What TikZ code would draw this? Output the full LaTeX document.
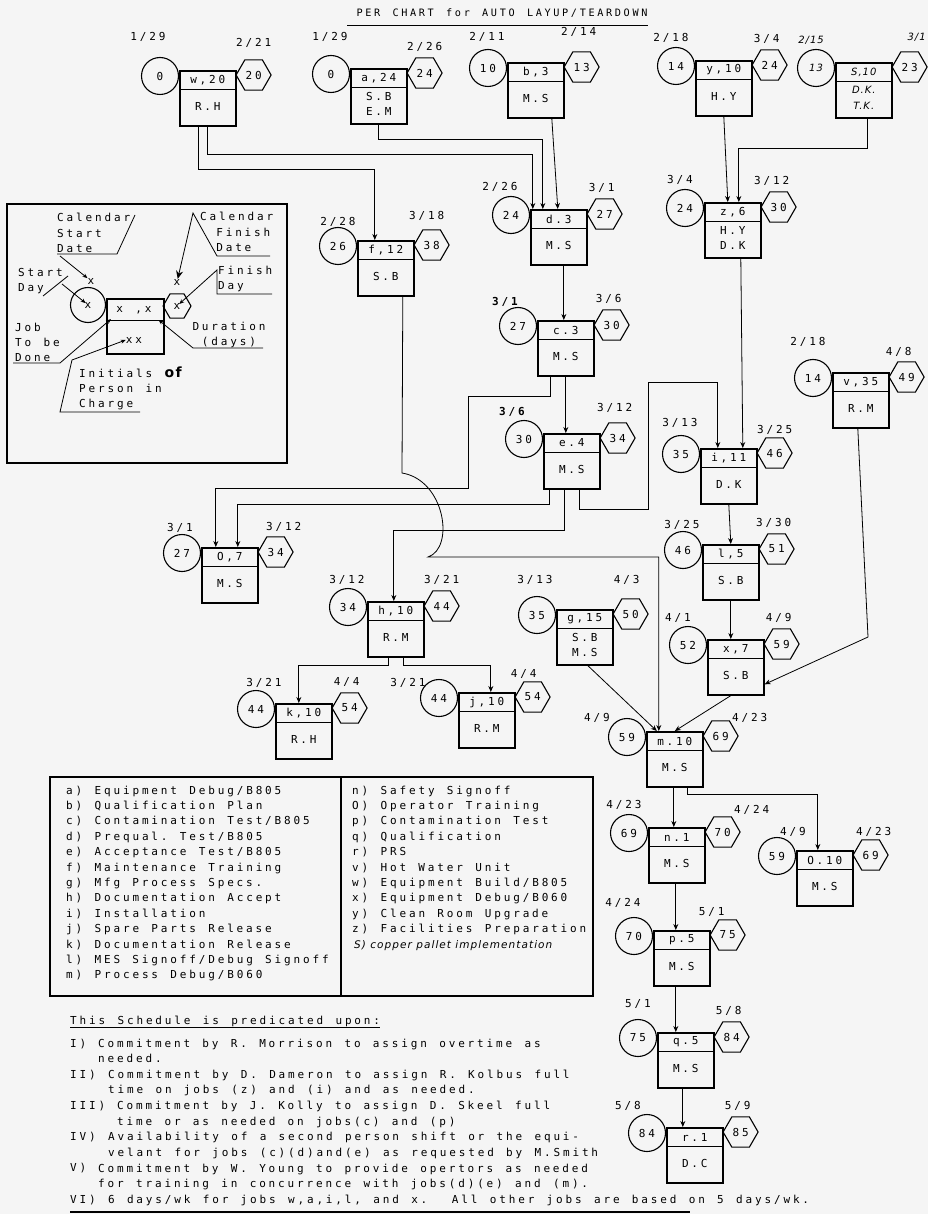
\documentclass[tikz,border=0pt]{standalone}
\usepackage{fontspec}
\newfontfamily\typew[LetterSpace=26]{DejaVu Sans Mono}
\newfontfamily\handw[LetterSpace=10]{DejaVu Sans}
\usetikzlibrary{calc,shapes.geometric,arrows.meta}

\newcommand{\chartfont}{\typew\fontsize{11}{15.4}\selectfont\spaceskip=12.3pt\xspaceskip=12.3pt\relax}
\newcommand{\handfont}{\handw\itshape\fontsize{10}{13}\selectfont}

\tikzset{
  jobbox/.style={draw, line width=1.6pt, minimum width=56, minimum height=55, inner sep=0pt, anchor=north west},
  jobdiv/.style={line width=0.7pt},
  jobtxt/.style={font=\chartfont, inner sep=0pt, align=center},
  startday/.style={circle, draw, line width=1.1pt, minimum size=37, inner sep=0pt, font=\chartfont},
  finishday/.style={regular polygon, regular polygon sides=6, draw, line width=1.1pt, minimum size=35, inner sep=0pt, font=\chartfont},
  datelbl/.style={font=\chartfont, inner sep=0pt},
  flow/.style={line width=0.8pt, -{Stealth[length=6pt,width=5pt]}},
  lead/.style={line width=0.8pt, -{Stealth[length=5pt,width=4pt]}},
  plain/.style={font=\chartfont, inner sep=0pt, anchor=base west, align=left},
}

% job: name, top left of box, job, person, start day, finish day, start date, finish date
\newcommand{\jobnode}[8]{%
  \node[jobbox] (#1) at (#2) {};
  \draw[jobdiv] ($(#1.north west)+(0,19)$) -- ($(#1.north east)+(0,19)$);
  \node[jobtxt] (#1-t) at ($(#1.north)+(0,10)$) {#3};
  \node[jobtxt] (#1-p) at ($(#1.north)+(0,36)$) {#4};
  \node[startday] (#1-s) at ($(#1.north west)+(-19,6)$) {#5};
  \node[finishday] (#1-f) at ($(#1.north east)+(17,5)$) {#6};
  \node[datelbl] (#1-sd) at ($(#1.north west)+(-24,-22)$) #7;
  \node[datelbl] (#1-fd) at ($(#1.north east)+(14,-21)$) #8;
}

\begin{document}
\begin{tikzpicture}[x=1pt, y=-1pt]
\useasboundingbox[fill=black!4] (0,0) rectangle (928,1214);

% Title
\node[datelbl, font=\chartfont\fontsize{10.2}{12}\selectfont] (title) at (502,13) {PER CHART for AUTO LAYUP/TEARDOWN};
\draw[line width=0.8pt] (347,25) -- (648,25);

% Jobs
\jobnode{jw}{179,70}{w,20}{R.H}{0}{20}{[shift={(-7,-11)}]{1/29}}{[shift={(3,-6)}]{2/21}}
\jobnode{ja}{350,68}{a,24}{S.B\\E.M}{0}{24}{[shift={(4,-9)}]{1/29}}{[shift={(3,0)}]{2/26}}
\jobnode{jb}{507,62}{b,3}{M.S}{10}{13}{[shift={(4,-3)}]{2/11}}{[shift={(0,-9)}]{2/14}}
\jobnode{jy}{695,60}{y,10}{H.Y}{14}{24}{{2/18}}{{3/4}}
\jobnode{jS}{835,62}{\handfont S,10}{{\handfont D.K.}\\{\handfont T.K.}}{\handfont 13}{23}{{\handfont 2/15}}{[shift={(10,-4)}]{\handfont 3/1}}
\jobnode{jd}{530,209}{d.3}{M.S}{24}{27}{[shift={(-6,0)}]{2/26}}{{3/1}}
\jobnode{jz}{704,202}{z,6}{H.Y\\D.K}{24}{30}{{3/4}}{[shift={(-4,0)}]{3/12}}
\jobnode{jf}{357,240}{f,12}{S.B}{26}{38}{[shift={(5,4)}]{2/28}}{[shift={(-2,-3)}]{3/18}}
\jobnode{jc}{537,320}{c.3}{M.S}{27}{30}{[shift={(-8,4)}]{\bfseries 3/1}}{{3/6}}
\jobnode{je}{543,433}{e.4}{M.S}{30}{34}{[shift={(-7,1)}]{\bfseries 3/6}}{[shift={(0,-4)}]{3/12}}
\jobnode{jv}{832,372}{v,35}{R.M}{14}{49}{[shift={(0,-8)}]{2/18}}{[shift={(-5,1)}]{4/8}}
\jobnode{ji}{700,448}{i,11}{D.K}{35}{46}{[shift={(4,-3)}]{3/13}}{[shift={(3,3)}]{3/25}}
\jobnode{jl}{702,544}{l,5}{S.B}{46}{51}{[shift={(4,3)}]{3/25}}{{3/30}}
\jobnode{jx}{707,639}{x,7}{S.B}{52}{59}{[shift={(-5,1)}]{4/1}}{{4/9}}
\jobnode{jo7}{201,547}{O,7}{M.S}{27}{34}{[shift={(3,3)}]{3/1}}{[shift={(11,1)}]{3/12}}
\jobnode{jh}{367,601}{h,10}{R.M}{34}{44}{[shift={(4,1)}]{3/12}}{[shift={(3,0)}]{3/21}}
\jobnode{jg}{556,609}{g,15}{S.B\\M.S}{35}{50}{[shift={(3,-7)}]{3/13}}{[shift={(-1,-8)}]{4/3}}
\jobnode{jk}{275,703}{k,10}{R.H}{44}{54}{[shift={(13,2)}]{3/21}}{{4/4}}
\jobnode{jj}{458,692}{j,10}{R.M}{44}{54}{[shift={(-26,13)}]{3/21}}{[shift={(-6,3)}]{4/4}}
\jobnode{jm}{646,731}{m.10}{M.S}{59}{69}{[shift={(-25,9)}]{4/9}}{[shift={(32,8)}]{4/23}}
\jobnode{jn}{648,827}{n.1}{M.S}{69}{70}{{4/23}}{[shift={(32,4)}]{4/24}}
\jobnode{jo10}{796,850}{O.10}{M.S}{59}{69}{[shift={(21,4)}]{4/9}}{[shift={(6,3)}]{4/23}}
\jobnode{jp}{653,930}{p.5}{M.S}{70}{75}{[shift={(-6,-5)}]{4/24}}{[shift={(-13,3)}]{5/1}}
\jobnode{jq}{657,1032}{q.5}{M.S}{75}{84}{[shift={(5,-6)}]{5/1}}{{5/8}}
\jobnode{jr}{666,1127}{r.1}{D.C}{84}{85}{[shift={(-14,1)}]{5/8}}{{5/9}}

% Connectors
\draw[flow] (jw.south) -- ++(0,28) -| ($(jd.north)+(-26,0)$);
\draw[flow] ($(jw.south)+(-9,0)$) -- ++(0,43) -| ($(jf.north)+(-11,0)$);
\draw[flow] (ja.south) -- ++(0,15) -| ($(jd.north)+(-16,0)$);
\draw[flow] ($(jb.south)+(16,0)$) -- ($(jd.north)+(-1,0)$);
\draw[flow] (jy.south) -- ($(jz.north)+(-5,0)$);
\draw[flow] ($(jS.south)+(4,0)$) -- ++(0,30) -| ($(jz.north)+(6,0)$);
\draw[flow] ($(jz.south)+(8,0)$) -- ($(ji.north)+(14,0)$);
\draw[flow] ($(jd.south)+(5,0)$) -- ($(jc.north)+(-2,0)$);
\draw[flow] (jc.south) -- ($(je.north)+(-6,0)$);
\draw[flow] ($(jc.south)+(-15,0)$) -- ++(0,20) -| (468,488) -| ($(jo7.north)+(-14,0)$);
\draw[flow] ($(je.south)+(-22,0)$) -- ++(0,15) -| ($(jo7.north)+(8,0)$);
\draw[flow] ($(je.south)+(-7,0)$) -- ++(0,41) -| ($(jh.north)+(-2,0)$);
\draw[flow] ($(je.south)+(8,0)$) -- ++(0,20) -| (648,382) -| ($(ji.north)+(-11,0)$);
\draw[flow] ($(jf.south)+(17,0)$) -- (402,473) .. controls (445,480) and (455,548) .. (428,557) -| ($(jm.north)+(-16,0)$);
\draw[flow] ($(jg.south)+(3,0)$) -- ($(jm.north)+(-18,0)$);
\draw[flow] ($(jx.south)+(-5,0)$) -- (jm.north);
\draw[flow] ($(jv.south)+(-3,0)$) -- (868,637) -- ($(jx.east)+(0,17)$);
\draw[flow] (ji.south) -- (jl.north);
\draw[flow] (jl.south) -- ($(jx.north)+(-5,0)$);
\draw[flow] ($(jh.south)+(-7,0)$) -- ++(0,8) -| ($(jk.north)+(-5,0)$);
\draw[flow] ($(jh.south)+(8,0)$) -- ++(0,8) -| ($(jj.north)+(4,0)$);
\draw[flow] ($(jm.south)+(-1,0)$) -- ($(jn.north)+(-3,0)$);
\draw[flow] ($(jm.south)+(13,0)$) -- ++(0,7) -| ($(jo10.north)+(-7,0)$);
\draw[flow] ($(jn.south)+(-1,0)$) -- ($(jp.north)+(-6,0)$);
\draw[flow] ($(jp.south)+(-6,0)$) -- ($(jq.north)+(-10,0)$);
\draw[flow] ($(jq.south)+(-3,0)$) -- ($(jr.north)+(-12,0)$);

% Key to the symbols
\draw[line width=1.1pt] (7,204) rectangle (287,463);
\node[startday, minimum size=35] (lg-s) at (88,305) {x};
\node[jobbox, minimum width=57] (lg-b) at (106,298) {};
\draw[jobdiv] ($(lg-b.north west)+(0,22)$) -- ($(lg-b.north east)+(0,22)$);
\node[jobtxt] (lg-t) at (134,310) {x ,x};
\node[jobtxt] (lg-p) at (134,340) {xx};
\node[finishday, minimum size=28] (lg-f) at (177,306) {x};
\node[jobtxt] (lg-sd) at (91,281) {x};
\node[jobtxt] (lg-fd) at (177,282) {x};
\node[plain] (lg-csd) at (57,252.8) {Calendar\\Start\\Date};
\node[plain] (lg-sday) at (18,291.4) {Start\\Day};
\node[plain] (lg-job) at (15,361.8) {Job\\To be\\Done};
\node[plain] (lg-ini) at (79,407.8) {Initials {\handw\bfseries\fontsize{14}{14}\selectfont of}\\Person in\\Charge};
\node[plain, anchor=base, align=center] (lg-dur) at (229,345.4) {Duration\\(days)};
\node[plain] (lg-cfd) at (200,251.8) {Calendar\\\phantom{Ca}Finish\\\phantom{Ca}Date};
\node[plain] (lg-fday) at (218,289.4) {Finish\\Day};
\draw[line width=0.8pt] (57,254) -- (117,254) -- (135,215);
\draw[lead] (60,256) -- (lg-sd);
\draw[line width=0.8pt] (43,296) -- (68,276);
\draw[lead, shorten >=3pt] (62,284) -- (lg-s.center);
\draw[lead] (13,363) -- (60,363) -- ($(lg-b.north west)+(5,21)$);
\draw[lead] (140,412) -- (60,412) -- (72,360) -- (lg-p.west);
\draw[lead] (263,348) -- (193,348) -- ($(lg-b.north east)+(-6,22)$);
\draw[line width=0.8pt, -{Stealth[length=8pt,width=7pt]}] (270,256) -- (217,256) -- (193,213) -- (lg-fd);
\draw[lead, shorten >=3pt] (272,294) -- (217,294) -- (217,270) -- (lg-f.center);

% Job list
\draw[line width=1.1pt] (50,777) rectangle (593,996);
\draw[line width=2pt] (50,996) -- (593,996);
\draw[line width=1.1pt] (341,777) -- (341,996);
\node[plain] (legl) at (66,978.8) {a) Equipment Debug/B805\\b) Qualification Plan\\c) Contamination Test/B805\\d) Prequal. Test/B805\\e) Acceptance Test/B805\\f) Maintenance Training\\g) Mfg Process Specs.\\h) Documentation Accept\\i) Installation\\j) Spare Parts Release\\k) Documentation Release\\l) MES Signoff/Debug Signoff\\m) Process Debug/B060};
\node[plain] (legr) at (352,932.6) {n) Safety Signoff\\O) Operator Training\\p) Contamination Test\\q) Qualification\\r) PRS\\v) Hot Water Unit\\w) Equipment Build/B805\\x) Equipment Debug/B060\\y) Clean Room Upgrade\\z) Facilities Preparation};
\node[plain, font=\handw\itshape\fontsize{10.5}{12}\selectfont] (legs) at (354,948) {S) copper pallet implementation};

% Conditions
\node[plain] (sched) at (70,1024) {This Schedule is predicated upon:};
\draw[line width=0.8pt] ($(sched.base west)+(0,3)$) -- ($(sched.base east)+(0,3)$);
\node[plain] (c1l) at (70,1047) {I)};
\node[plain] (c1t) at (98,1062.6) {Commitment by R. Morrison to assign overtime as\\needed.};
\node[plain] (c2l) at (70,1078.2) {II)};
\node[plain] (c2t) at (108,1093.8) {Commitment by D. Dameron to assign R. Kolbus full\\time on jobs (z) and (i) and as needed.};
\node[plain] (c3l) at (70,1109.4) {III)};
\node[plain] (c3t) at (117,1125) {Commitment by J. Kolly to assign D. Skeel full\\time or as needed on jobs(c) and (p)};
\node[plain] (c4l) at (70,1140.6) {IV)};
\node[plain] (c4t) at (108,1156.2) {Availability of a second person shift or the equi-\\velant for jobs (c)(d)and(e) as requested by M.Smith};
\node[plain] (c5l) at (70,1171.8) {V)};
\node[plain] (c5t) at (98,1187.4) {Commitment by W. Young to provide opertors as needed\\for training in concurrence with jobs(d)(e) and (m).};
\node[plain] (c6) at (70,1203) {VI) 6 days/wk for jobs w,a,i,l, and x.\ \ All other jobs are based on 5 days/wk.};
\draw[line width=1.5pt] (70,1212) -- (690,1212);
\end{tikzpicture}
\end{document}
